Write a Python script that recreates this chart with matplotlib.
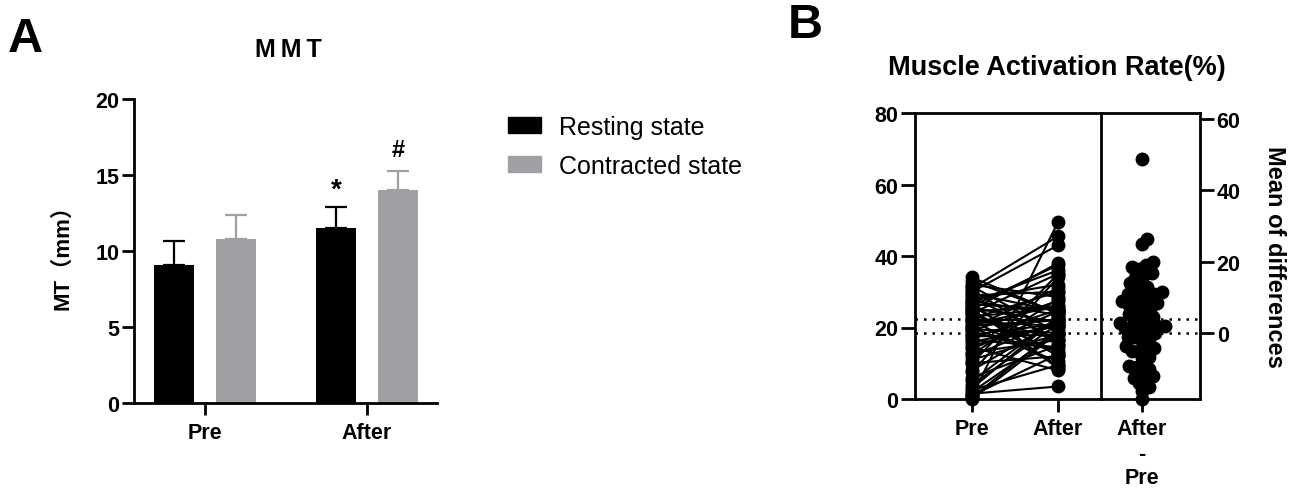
import numpy as np
import matplotlib
matplotlib.use("Agg")
import matplotlib.pyplot as plt
from matplotlib.patches import Patch

plt.rcParams['font.family'] = ['Liberation Sans', 'Noto Sans CJK SC', 'DejaVu Sans']

# ---- panel A data ----
groups = ['Pre', 'After']
rest_mean = [9.1, 11.5]
rest_err = [1.55, 1.4]
contr_mean = [10.8, 14.0]
contr_err = [1.55, 1.25]
marks_rest = ['', '*']
marks_contr = ['', '#']

# ---- panel B data (paired, pre -> after) ----
pre = [0.8, 7.5, 10, 3, 0, 5, 2, 31, 30, 1,
       26, 25, 14, 12, 20, 6, 24, 17, 22.5, 11,
       19, 27, 15, 21, 16, 28, 13, 18, 23, 10,
       1.5, 20.5, 29, 17.5, 22, 24.5, 19.5, 26.5, 16.5, 21.5,
       32, 25.5, 18.5, 27.5, 14.5, 23.5, 29.5, 33, 20, 34,
       24, 28.5, 22, 31.5, 26, 30.5, 25, 27, 0.5, 4,
       2.5, 8, 12.5]
after = [49.5, 34, 35, 23, 18.5, 23, 18.5, 45.5, 43, 12.5,
         37.5, 38, 24.5, 22, 31, 15, 35, 25, 30, 18,
         27.5, 36, 20.5, 26, 20.5, 32, 16.5, 21, 25.5, 12,
         3.5, 22, 30, 18, 22, 26, 18.5, 25, 14.5, 20.5,
         28.5, 21.5, 13.5, 23.5, 8, 16.5, 24.5, 24, 10.5, 24,
         13, 16.5, 9.5, 18.5, 12, 15.5, 9, 8.5, 19.5, 21,
         9.5, 22, 28]

BLACK = '#000000'
GREY = '#a0a0a4'
LW = 2.0
TICK_FS = 15.5

fig = plt.figure(figsize=(12.94, 4.89), dpi=100)
W, H = 1294, 489

def frac(l, t, r, b):
    return [l / W, 1 - b / H, (r - l) / W, (b - t) / H]

def bold_ticks(a):
    for t in a.get_xticklabels() + a.get_yticklabels():
        t.set_fontweight('bold')

# ================= panel A =================
ax = fig.add_axes(frac(134, 100, 437, 404))
x = np.arange(len(groups))
off, bw = 0.19, 0.245
ax.bar(x - off, rest_mean, bw, color=BLACK)
ax.bar(x + off, contr_mean, bw, color=GREY)
ax.errorbar(x - off, rest_mean, yerr=[np.zeros(2), rest_err], fmt='none',
            ecolor=BLACK, elinewidth=1.6, capsize=8, capthick=1.6)
ax.errorbar(x + off, contr_mean, yerr=[np.zeros(2), contr_err], fmt='none',
            ecolor=GREY, elinewidth=1.6, capsize=8, capthick=1.6)
for i in range(2):
    if marks_rest[i]:
        ax.text(x[i] - off, rest_mean[i] + rest_err[i] + 0.3, marks_rest[i],
                ha='center', va='bottom', fontsize=20, fontweight='bold')
    if marks_contr[i]:
        ax.text(x[i] + off, contr_mean[i] + contr_err[i] + 0.65, marks_contr[i],
                ha='center', va='bottom', fontsize=17, fontweight='bold')
ax.set_xlim(-0.438, 1.432)
ax.set_ylim(0, 20)
ax.set_yticks([0, 5, 10, 15, 20])
ax.set_xticks(x)
ax.set_xticklabels(groups)
for s in ['top', 'right']:
    ax.spines[s].set_visible(False)
for s in ['left', 'bottom']:
    ax.spines[s].set_linewidth(LW)
ax.tick_params(axis='y', length=8.5, width=LW, labelsize=TICK_FS, pad=2)
ax.tick_params(axis='x', length=8.5, width=LW, labelsize=TICK_FS, pad=5)
bold_ticks(ax)
ax.set_ylabel('MT（mm）', fontsize=16, fontweight='bold')
ax.yaxis.set_label_coords(-0.2, 0.5)
fig.text(288 / W, 1 - 50 / H, 'M\u2009M\u2009T', fontsize=18, fontweight='bold',
         ha='center', va='center')

fig.legend([Patch(color=BLACK), Patch(color=GREY)],
           ['Resting state', 'Contracted state'],
           loc='upper left', bbox_to_anchor=(485 / W, 1 - 93 / H),
           frameon=False, fontsize=18, handlelength=1.35, handleheight=0.6,
           handletextpad=0.7, labelspacing=0.62)

fig.text(8 / W, 1 - 39 / H, 'A', fontsize=35, fontweight='bold', va='center')
fig.text(788 / W, 1 - 26 / H, 'B', fontsize=35, fontweight='bold', va='center')

# ================= panel B =================
pre_a = np.array(pre)
after_a = np.array(after)
diff = after_a - pre_a
m_pre, m_after = pre_a.mean(), after_a.mean()
DOT = (0, (1, 2.4))

axp = fig.add_axes(frac(915, 114, 1101, 400))
for p, a in zip(pre, after):
    axp.plot([0, 1], [p, a], color=BLACK, lw=1.5, marker='o', ms=9,
             mfc=BLACK, mec=BLACK, clip_on=False, zorder=3)
axp.set_xlim(-0.663, 1.5)
axp.set_ylim(0, 80)
axp.set_yticks([0, 20, 40, 60, 80])
axp.set_xticks([0, 1])
axp.set_xticklabels(['Pre', 'After'])
axp.axhline(m_pre, color=BLACK, ls=DOT, lw=1.8, zorder=1)
axp.axhline(m_after, color=BLACK, ls=DOT, lw=1.8, zorder=1)
for s in axp.spines.values():
    s.set_linewidth(LW)
axp.tick_params(axis='y', length=10, width=LW, labelsize=TICK_FS, pad=2)
axp.tick_params(axis='x', length=9, width=LW, labelsize=TICK_FS, pad=5)
bold_ticks(axp)

axd = fig.add_axes(frac(1101, 114, 1200, 400))
axd.patch.set_visible(False)
axd.set_xlim(-41, 58)
axd.set_ylim(0 - m_pre, 80 - m_pre)
axd.set_yticks([0, 20, 40, 60])
axd.set_xticks([0])
axd.set_xticklabels(['After\n-\nPre'], linespacing=1.2)
axd.yaxis.tick_right()
axd.spines['left'].set_visible(False)
for s in ['top', 'bottom', 'right']:
    axd.spines[s].set_linewidth(LW)
axd.tick_params(axis='y', length=10, width=LW, labelsize=TICK_FS, pad=2)
axd.tick_params(axis='x', length=9, width=LW, labelsize=TICK_FS, pad=5)
bold_ticks(axd)
axd.set_ylabel('Mean of differences', fontsize=17, fontweight='bold',
               rotation=270, va='center')
axd.yaxis.set_label_position('right')
axd.yaxis.set_label_coords(1.87, 0.5)
axd.axhline(0, color=BLACK, ls=DOT, lw=1.8, zorder=1)
axd.axhline(m_after - m_pre, color=BLACK, ls=DOT, lw=1.8, zorder=1)

# beeswarm layout in pixel space (dots allowed to overlap a little)
r = 3.8
pts = axd.transData.transform(np.column_stack([np.zeros(len(diff)), diff]))
order = np.argsort(diff)
placed = []
xs = np.zeros(len(diff))
for i in order:
    y = pts[i, 1]
    cands = [0.0]
    for (px, py) in placed:
        dy = y - py
        if abs(dy) < 2 * r:
            dx = np.sqrt((2 * r) ** 2 - dy ** 2)
            cands += [px + dx, px - dx]
    cands.sort(key=abs)
    for c in cands:
        ok = all((c - px) ** 2 + (y - py) ** 2 >= (2 * r) ** 2 - 1e-6 for px, py in placed)
        if ok:
            break
    placed.append((c, y))
    xs[i] = pts[i, 0] + c
xd = axd.transData.inverted().transform(np.column_stack([xs, pts[:, 1]]))[:, 0]
axd.plot(xd, diff, 'o', color=BLACK, ms=9, clip_on=False, zorder=3)

fig.text(1057 / W, 1 - 68 / H, 'Muscle Activation Rate(%)', fontsize=19.5,
         fontweight='bold', ha='center', va='center')

fig.savefig('out.png', dpi=100)
